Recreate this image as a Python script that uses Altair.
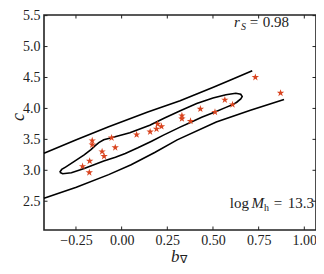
import altair as alt

# ---- data ----
star_x = [-0.161, -0.161, -0.055, 0.082, 0.156, -0.107, -0.035, -0.096, -0.175, -0.214,
          -0.177, 0.191, 0.197, 0.218, 0.330, 0.330, 0.377, 0.431, 0.511, 0.565,
          0.607, 0.732, 0.870]
star_y = [3.480, 3.413, 3.526, 3.576, 3.622, 3.302, 3.368, 3.226, 3.150, 3.064,
          2.964, 3.667, 3.748, 3.708, 3.884, 3.834, 3.793, 3.991, 3.941, 4.138,
          4.062, 4.503, 4.249]

outer_upper_x = [-0.425, -0.248, -0.071, 0.143, 0.320, 0.411, 0.502, 0.593, 0.715]
outer_upper_y = [3.277, 3.492, 3.705, 3.941, 4.123, 4.233, 4.343, 4.457, 4.609]

outer_lower_x = [-0.425, -0.248, -0.071, 0.052, 0.181, 0.304, 0.518, 0.705, 0.889]
outer_lower_y = [2.550, 2.725, 2.930, 3.090, 3.287, 3.492, 3.781, 3.971, 4.146]

inner_x = [-0.339, -0.328, -0.307, -0.259, -0.205, -0.168, -0.146, -0.125, -0.098, -0.061,
           0.045, 0.154, 0.232, 0.321, 0.411, 0.500, 0.571, 0.625, 0.652, 0.660,
           0.652, 0.630, 0.609, 0.571, 0.511, 0.438, 0.376, 0.320, 0.229, 0.164,
           0.089, 0.020, -0.034, -0.098, -0.205, -0.275, -0.323, -0.339]
inner_y = [2.968, 3.014, 3.052, 3.143, 3.249, 3.333, 3.394, 3.447, 3.492, 3.523,
           3.606, 3.728, 3.842, 3.964, 4.078, 4.169, 4.222, 4.245, 4.229, 4.191,
           4.153, 4.100, 4.062, 4.017, 3.941, 3.857, 3.774, 3.698, 3.568, 3.470,
           3.363, 3.272, 3.211, 3.150, 3.029, 2.960, 2.945, 2.968]

x_ticks = [-0.25, 0.0, 0.25, 0.5, 0.75, 1.0]
y_ticks = [2.5, 3.0, 3.5, 4.0, 4.5, 5.0, 5.5]

FONT = "Liberation Serif"
TXT = "#222222"
STAR = "#d9441f"
STAR_PATH = ("M0,-1L0.2245,-0.309L0.951,-0.309L0.363,0.118L0.588,0.809L0,0.382"
             "L-0.588,0.809L-0.363,0.118L-0.951,-0.309L-0.2245,-0.309Z")

W, H = 272, 215

contour_rows = []
for seg, xs_, ys_ in [("ou", outer_upper_x, outer_upper_y),
                      ("ol", outer_lower_x, outer_lower_y),
                      ("in", inner_x, inner_y)]:
    for i, (a, b) in enumerate(zip(xs_, ys_)):
        contour_rows.append({"seg": seg, "i": i, "px": a, "py": b})
star_rows = [{"px": a, "py": b} for a, b in zip(star_x, star_y)]
xt_rows = [{"px": v} for v in x_ticks]
yt_rows = [{"py": v} for v in y_ticks]

xs = alt.Scale(domain=[-0.425, 1.064], nice=False, zero=False)
ys = alt.Scale(domain=[2.035, 5.51], nice=False, zero=False)

xaxis = alt.Axis(values=x_ticks, format=".2f", ticks=False, domain=False,
                 grid=False, labelFont=FONT, labelFontSize=14, labelColor=TXT,
                 labelPadding=3, title=None)
yaxis = alt.Axis(values=y_ticks, format=".1f", ticks=False, domain=False,
                 grid=False, labelFont=FONT, labelFontSize=14, labelColor=TXT,
                 labelPadding=4, title=None)

X = alt.X("px:Q", scale=xs, axis=xaxis)
Y = alt.Y("py:Q", scale=ys, axis=yaxis)

contour_layer = alt.Chart(alt.Data(values=contour_rows)).mark_line(
    color="black", strokeWidth=1.6).encode(
    x=X, y=Y, detail="seg:N", order="i:Q",
)

star_layer = alt.Chart(alt.Data(values=star_rows)).mark_point(
    shape=STAR_PATH, filled=True, color=STAR, size=60, opacity=1).encode(x=X, y=Y)

TL = 3.5
tick_b = alt.Chart(alt.Data(values=xt_rows)).mark_rule(color=TXT, strokeWidth=1).encode(
    x=X, y=alt.value(H), y2=alt.value(H - TL))
tick_t = alt.Chart(alt.Data(values=xt_rows)).mark_rule(color=TXT, strokeWidth=1).encode(
    x=X, y=alt.value(0), y2=alt.value(TL))
tick_l = alt.Chart(alt.Data(values=yt_rows)).mark_rule(color=TXT, strokeWidth=1).encode(
    y=Y, x=alt.value(0), x2=alt.value(TL))
tick_r = alt.Chart(alt.Data(values=yt_rows)).mark_rule(color=TXT, strokeWidth=1).encode(
    y=Y, x=alt.value(W), x2=alt.value(W - TL))


def label(txt, x, y, size=15, style="normal", align="left", angle=0, baseline="alphabetic"):
    return alt.Chart(alt.Data(values=[{"t": txt}])).mark_text(
        font=FONT, fontSize=size, fontStyle=style, align=align,
        baseline=baseline, angle=angle, color=TXT,
    ).encode(x=alt.value(x), y=alt.value(y), text="t:N")


texts = [
    label("r", 190, 12, style="italic"),
    label("S", 197, 15, size=10, style="italic"),
    label("=", 210, 12, align="center"),
    label("0.98", 245, 12, align="right"),
    label("log", 205, 193, align="right"),
    label("M", 220, 193, style="italic", align="right"),
    label("h", 220, 196, size=10),
    label("=", 234, 193, align="center"),
    label("13.3", 270, 193, align="right"),
    label("c", -25, 102, size=18, style="italic", align="center", angle=270,
          baseline="middle"),
    label("b", 127, 247, size=17, style="italic"),
    label("\u2207", 136, 248, size=11),
]

chart = alt.layer(contour_layer, star_layer, tick_b, tick_t, tick_l, tick_r, *texts).properties(
    width=W, height=H,
    autosize=alt.AutoSizeParams(type="none"),
    padding={"left": 36, "top": 7, "right": 0, "bottom": 36},
).configure_view(stroke="#222222", strokeWidth=1.6)

chart.save("out.html", embed_options={"renderer": "svg", "actions": False})
